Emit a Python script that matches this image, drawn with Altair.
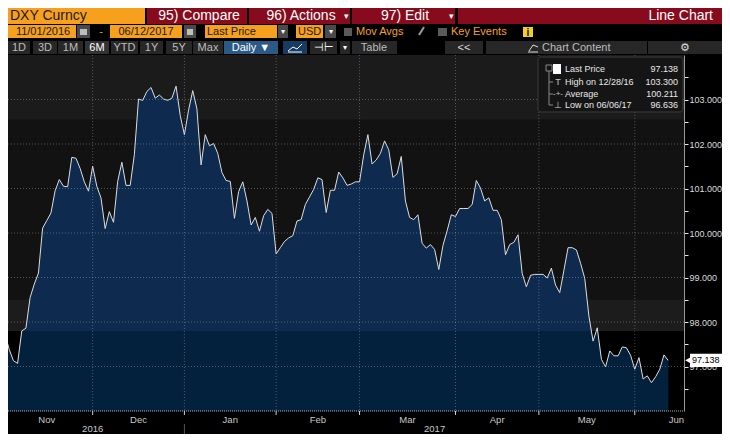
import altair as alt
import pandas as pd

# ---------------- data ----------------
PRICES = [
    97.72, 97.38, 97.13, 97.07, 97.80, 97.86, 98.55, 98.85, 99.10, 100.11,
    100.28, 100.45, 100.95, 101.20, 101.05, 101.04, 101.70, 101.68, 101.45, 101.15,
    100.94, 101.50, 101.05, 100.79, 100.10, 100.48, 100.24, 101.16, 101.59, 101.07,
    101.07, 101.76, 103.01, 102.98, 103.18, 103.27, 103.03, 103.10, 103.01, 102.98,
    103.03, 103.30, 102.64, 102.21, 102.76, 103.20, 102.79, 101.53, 102.21, 101.96,
    102.01, 101.79, 101.36, 101.18, 101.16, 100.33, 100.93, 101.15, 100.72, 100.18,
    100.35, 100.04, 100.39, 100.53, 100.44, 99.53, 99.67, 99.81, 99.89, 99.94,
    100.27, 100.30, 100.64, 100.81, 100.98, 101.24, 101.20, 100.46, 100.96, 100.96,
    101.37, 101.24, 101.07, 101.10, 101.15, 101.15, 101.76, 102.21, 101.55, 101.64,
    101.79, 102.07, 101.87, 101.25, 101.33, 101.72, 100.72, 100.35, 100.30, 100.41,
    99.77, 99.66, 99.74, 99.63, 99.18, 99.72, 100.05, 100.41, 100.37, 100.55,
    100.55, 100.55, 100.64, 101.18, 101.01, 100.72, 100.79, 100.51, 100.51, 100.30,
    99.51, 99.74, 99.79, 99.96, 99.09, 98.79, 99.05, 99.07, 99.07, 99.07,
    98.99, 99.21, 98.83, 98.66, 99.16, 99.67, 99.67, 99.62, 99.32, 98.98,
    98.13, 97.57, 97.87, 97.16, 96.99, 97.35, 97.24, 97.24, 97.44, 97.42,
    97.25, 96.94, 97.20, 96.72, 96.79, 96.636, 96.77, 96.94, 97.26, 97.138,
]
DATES = pd.bdate_range("2016-11-01", "2017-06-12")  # daily (weekday) series

MONTH_NAMES = ["Nov", "Dec", "Jan", "Feb", "Mar", "Apr", "May", "Jun"]
MONTH_LABEL_POS = [10, 32, 54, 75, 96.5, 118, 139.5, 161]
YEAR_NAMES = ["2016", "2017"]
YEAR_LABEL_POS = [21, 103]
YEAR_BREAK = [43]
Y_TICKS = [96.5, 97, 97.5, 98, 98.5, 99, 99.5, 100, 100.5, 101, 101.5, 102, 102.5, 103, 103.5]
GRID_Y = [97, 98, 99, 100, 101, 102, 103]
BAND_LOW = [96.0, 97.8, 102.55]
BAND_HIGH = [97.8, 98.5, 104.0]
BAND_NAME = ["low", "mid", "top"]

LEGEND_LABELS = ["Last Price", "High on 12/28/16", "Average", "Low on 06/06/17"]
LEGEND_VALUES = ["97.138", "103.300", "100.211", "96.636"]

df = pd.DataFrame({"i": range(len(PRICES)), "date": DATES.strftime("%Y-%m-%d"), "value": PRICES})
month_end = [k for k in range(len(DATES) - 1) if DATES[k].month != DATES[k + 1].month]

# ---------------- geometry / style ----------------
W, H = 676, 356
FONT = "Liberation Sans, Arial, sans-serif"
ORANGE = "#f6a01e"
RED = "#870b1c"
BTN = "#272727"

xs = alt.Scale(domain=[0.7, 162.8], nice=False, zero=False)
ys = alt.Scale(domain=[96, 104], nice=False, zero=False)
ONE = alt.Data(values=[{"k": 0}])

yaxis = alt.Axis(orient="right", values=Y_TICKS, title=None, grid=False,
                 labelExpr="(datum.value * 2) % 2 == 0 ? format(datum.value, '.3f') : ''",
                 tickSize=4, tickColor="#e6e6e6", domainColor="#9a9a9a",
                 labelColor="#dcdcdc", labelFontSize=9, labelPadding=1,
                 labelFont=FONT, labelOverlap=False, labelFlush=False)


def Yq(field):
    return alt.Y(field, scale=ys, axis=yaxis)


def box(x1, x2, y1, y2, fill, stroke=None, radius=0):
    kw = dict(fill=fill)
    if stroke:
        kw.update(stroke=stroke, strokeWidth=1)
    if radius:
        kw["cornerRadius"] = radius
    return alt.Chart(ONE).mark_rect(**kw).encode(
        x=alt.value(x1), x2=alt.value(x2), y=alt.value(y1), y2=alt.value(y2))


def txt(x, y, s, color, size=11, align="left", weight="normal"):
    return alt.Chart(ONE).mark_text(
        text=s, align=align, baseline="middle", color=color, fontSize=size,
        fontWeight=weight, font=FONT).encode(x=alt.value(x), y=alt.value(y))


def seg(x1, y1, x2, y2, color, width=1):
    return alt.Chart(ONE).mark_rule(color=color, strokeWidth=width).encode(
        x=alt.value(x1), y=alt.value(y1), x2=alt.value(x2), y2=alt.value(y2))


layers = []

# background bands
bands = pd.DataFrame({"lo": BAND_LOW, "hi": BAND_HIGH, "band": BAND_NAME})
layers.append(alt.Chart(bands).mark_rect().encode(
    x=alt.value(0), x2=alt.value(W),
    y=Yq("hi:Q"), y2="lo:Q",
    color=alt.Color("band:N", legend=None,
                    scale=alt.Scale(domain=BAND_NAME, range=["#000000", "#1c1c1c", "#1b1b1b"]))))

base = alt.Chart(df)
X = alt.X("i:Q", scale=xs, axis=None)

layers.append(base.mark_area(color="#0e2a4e", clip=True).encode(x=X, y=Yq("value:Q"), y2=alt.datum(96)))
layers.append(base.transform_calculate(low="min(datum.value, 97.8)").mark_area(
    color="#03203d", clip=True).encode(x=X, y=Yq("low:Q"), y2=alt.datum(96)))

# grid
layers.append(alt.Chart(pd.DataFrame({"g": GRID_Y})).mark_rule(
    color="#ffffff", opacity=0.28, strokeDash=[1, 2]).encode(
    y=Yq("g:Q"), x=alt.value(0), x2=alt.value(W)))
me = pd.DataFrame({"m": month_end})
layers.append(alt.Chart(me).mark_rule(color="#ffffff", opacity=0.28, strokeDash=[1, 2]).encode(
    x=alt.X("m:Q", scale=xs, axis=None), y=alt.value(0), y2=alt.value(H)))

# price line
layers.append(base.mark_line(color="#dedede", strokeWidth=1, clip=True).encode(x=X, y=Yq("value:Q")))

# x baseline, month separators and labels
layers.append(alt.Chart(ONE).mark_rule(color="#b0b0b0", strokeDash=[1, 1]).encode(
    x=alt.value(0), x2=alt.value(W), y=alt.value(H), y2=alt.value(H)))
layers.append(alt.Chart(me).mark_rule(color="#d0d0d0").encode(
    x=alt.X("m:Q", scale=xs, axis=None), y=alt.value(H), y2=alt.value(H + 4)))
layers.append(alt.Chart(pd.DataFrame({"c": MONTH_LABEL_POS, "n": MONTH_NAMES})).mark_text(
    color="#c8c8c8", fontSize=9.5, font=FONT, baseline="middle").encode(
    x=alt.X("c:Q", scale=xs, axis=None), y=alt.value(H + 9), text="n:N"))
layers.append(alt.Chart(pd.DataFrame({"c": YEAR_LABEL_POS, "n": YEAR_NAMES})).mark_text(
    color="#c8c8c8", fontSize=9.5, font=FONT, baseline="middle").encode(
    x=alt.X("c:Q", scale=xs, axis=None), y=alt.value(H + 18), text="n:N"))
layers.append(alt.Chart(pd.DataFrame({"c": YEAR_BREAK})).mark_rule(color="#555555").encode(
    x=alt.X("c:Q", scale=xs, axis=None), y=alt.value(H + 13), y2=alt.value(H + 30)))

# last price tag
last = base.transform_filter(alt.datum.i == len(PRICES) - 1)
layers.append(last.transform_calculate(t="datum.value + 0.15", b="datum.value - 0.15").mark_rect(
    color="#ffffff").encode(y=Yq("t:Q"), y2="b:Q", x=alt.value(W + 6), x2=alt.value(W + 40)))
layers.append(last.mark_point(shape="triangle-left", filled=True, color="#ffffff", size=40, opacity=1).encode(
    y=Yq("value:Q"), x=alt.value(W + 4)))
layers.append(last.mark_text(color="#000000", fontSize=9, font=FONT, align="left", baseline="middle").encode(
    y=Yq("value:Q"), x=alt.value(W + 8), text=alt.Text("value:Q", format=".3f")))

# legend panel
LX = 530
layers.append(box(LX, LX + 145, 2, 57, "#151515", stroke="#3c3c3c", radius=3))
layers.append(seg(LX + 11, 16, LX + 11, 50, "#8a8a8a"))
for yy in (27, 39, 50):
    layers.append(seg(LX + 11, yy, LX + 15, yy, "#8a8a8a"))
layers.append(box(LX + 8, LX + 14, 10, 16, "#151515", stroke="#8a8a8a"))
layers.append(box(LX + 15, LX + 23, 9, 19, "#ffffff"))
layers.append(txt(LX + 20, 27, "T", "#c8c8c8", 9, "center"))
layers.append(txt(LX + 20, 39, "-+-", "#c8c8c8", 8, "center"))
layers.append(txt(LX + 20, 50, "⊥", "#c8c8c8", 9, "center"))
for k, (lab, val) in enumerate(zip(LEGEND_LABELS, LEGEND_VALUES)):
    yy = [14, 27, 39, 50][k]
    layers.append(txt(LX + 27, yy, lab, "#e8e8e8", 9))
    layers.append(txt(LX + 140, yy, val, "#e8e8e8", 9, "right"))

# ---------------- Bloomberg-style header ----------------
# row 1
layers.append(box(0, 137, -47, -31, ORANGE))
layers.append(txt(2, -39, "DXY Curncy", "#1a1a1a", 14))
layers.append(box(139, 239, -47, -31, RED))
layers.append(txt(191, -39, "95) Compare", "#ffffff", 14, "center"))
layers.append(box(241, 342, -47, -31, RED))
layers.append(txt(293, -39, "96) Actions", "#ffffff", 14, "center"))
layers.append(txt(338, -39, "▾", "#ffffff", 9, "center"))
layers.append(box(344, 447, -47, -31, RED))
layers.append(txt(397, -39, "97) Edit", "#ffffff", 14, "center"))
layers.append(txt(443, -39, "▾", "#ffffff", 9, "center"))
layers.append(box(450, 720, -47, -31, RED))
layers.append(txt(705, -39, "Line Chart", "#ffffff", 14, "right"))

# row 2
R2a, R2b, R2c = -30, -17, -23.5
layers.append(box(0, 68, R2a, R2b, ORANGE))
layers.append(txt(35, R2c, "11/01/2016", "#1a1a1a", 11, "center"))
layers.append(box(69, 82, R2a, R2b, "#4a4a4a"))
layers.append(box(72, 79, R2a + 4, R2b - 3, "#bdbdbd"))
layers.append(txt(93, R2c, "-", ORANGE, 11, "center"))
layers.append(box(102, 174, R2a, R2b, ORANGE))
layers.append(txt(138, R2c, "06/12/2017", "#1a1a1a", 11, "center"))
layers.append(box(176, 188, R2a, R2b, "#4a4a4a"))
layers.append(box(179, 185, R2a + 4, R2b - 3, "#bdbdbd"))
layers.append(box(197, 269, R2a, R2b, ORANGE))
layers.append(txt(199, R2c, "Last Price", "#1a1a1a", 11))
layers.append(box(270, 280, R2a, R2b, "#4a4a4a"))
layers.append(txt(275, R2c, "▾", "#ffffff", 8, "center"))
layers.append(box(288, 315, R2a, R2b, ORANGE))
layers.append(txt(290, R2c, "USD", "#1a1a1a", 11))
layers.append(box(317, 328, R2a, R2b, "#4a4a4a"))
layers.append(txt(322.5, R2c, "▾", "#ffffff", 8, "center"))
layers.append(box(336, 344, R2a + 3, R2b - 2, "#5a5a5a"))
layers.append(txt(348, R2c, "Mov Avgs", ORANGE, 11))
layers.append(seg(411, R2b - 3, 416, R2a + 2, "#9a9a9a", 2))
layers.append(box(430, 439, R2a + 3, R2b - 2, "#5a5a5a"))
layers.append(txt(443, R2c, "Key Events", ORANGE, 11))
layers.append(box(515, 525, R2a + 2, R2b - 1, "#f2d31b"))
layers.append(txt(520, R2c + 1, "i", "#000000", 10, "center", "bold"))

# row 3
R3a, R3b, R3c = -14, -1, -7.5
for (a, b, s) in [(0, 22, "1D"), (25, 49, "3D"), (50, 75, "1M"), (77, 101, "6M"), (103, 130, "YTD"),
                  (132, 155, "1Y"), (158, 184, "5Y"), (185, 215, "Max")]:
    layers.append(box(a, b, R3a, R3b, "#333333" if s == "6M" else BTN))
    layers.append(txt((a + b) / 2, R3c, s, "#ffffff" if s == "6M" else "#bdbdbd", 11, "center"))
layers.append(box(216, 270, R3a, R3b, "#2b5a86"))
layers.append(txt(243, R3c, "Daily ▼", "#ffffff", 11, "center"))
layers.append(box(275, 299, R3a, R3b, "#173b62"))
layers.append(seg(280, R3b - 3, 285, R3a + 6, "#ffffff"))
layers.append(seg(285, R3a + 6, 289, R3a + 8, "#ffffff"))
layers.append(seg(289, R3a + 8, 294, R3a + 3, "#ffffff"))
layers.append(seg(280, R3b - 2, 294, R3b - 2, "#ffffff"))
layers.append(box(302, 329, R3a, R3b, BTN))
layers.append(txt(315.5, R3c, "⊣⊢", "#ffffff", 11, "center"))
layers.append(box(332, 342, R3a, R3b, BTN))
layers.append(txt(337, R3c, "▾", "#ffffff", 8, "center"))
layers.append(box(344, 389, R3a, R3b, BTN))
layers.append(txt(366, R3c, "Table", "#bdbdbd", 11, "center"))
layers.append(box(437, 475, R3a, R3b, BTN))
layers.append(txt(456, R3c, "<<", "#dddddd", 11, "center"))
layers.append(box(478, 639, R3a, R3b, BTN))
layers.append(seg(520, R3b - 2, 530, R3b - 2, "#dddddd"))
layers.append(seg(521, R3b - 3, 525, R3a + 4, "#dddddd"))
layers.append(seg(525, R3a + 4, 530, R3a + 6, "#dddddd"))
layers.append(txt(534, R3c, "Chart Content", "#bdbdbd", 11))
layers.append(box(640, 714, R3a, R3b, BTN))
layers.append(txt(677, R3c, "⚙", "#dddddd", 11, "center"))

chart = alt.layer(*layers).properties(
    width=W, height=H,
    padding={"left": 0, "top": 47, "right": 38, "bottom": 23},
    autosize=alt.AutoSizeParams(type="none"),
    background="#000000",
).configure_view(fill="#121212", stroke=None).configure_text(font=FONT)

chart.save("out.html", embed_options={"renderer": "svg", "actions": False})
